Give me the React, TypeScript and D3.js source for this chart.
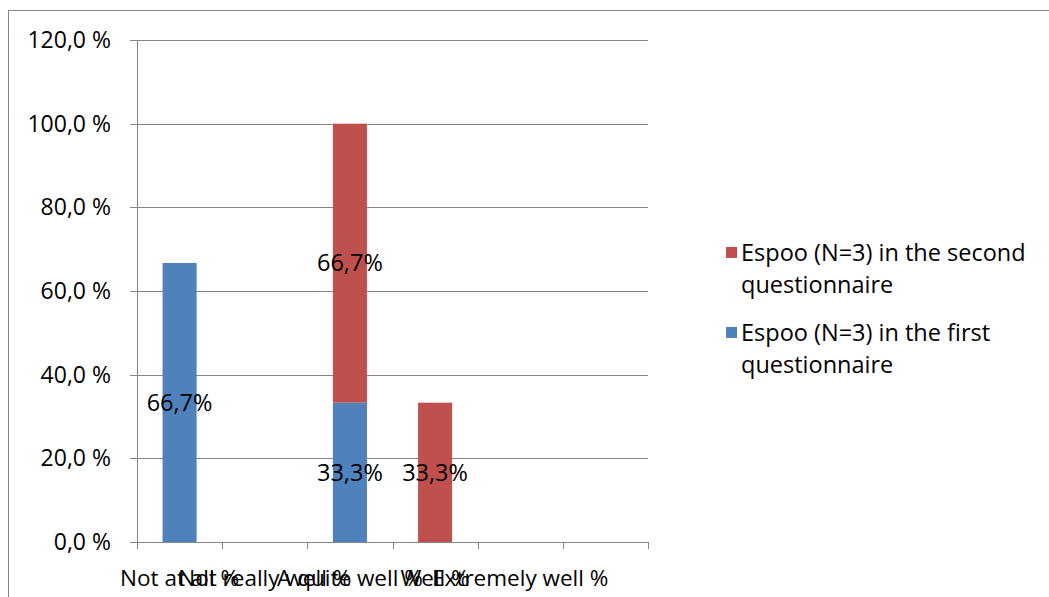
import React from "react";
import * as d3 from "d3";

const categories = ["Not at all %", "Not really well %", "A quite well %", "Well %", "Extremely well %", ""];
const firstQuestionnaire = [66.7, 0, 33.3, 0, 0, 0];
const secondQuestionnaire = [0, 0, 66.7, 33.3, 0, 0];
const yTicks = [0, 20, 40, 60, 80, 100, 120];
const seriesNames = ["Espoo (N=3) in the second questionnaire", "Espoo (N=3) in the first questionnaire"];

const BLUE = "#4F81BD";
const RED = "#C0504D";
const GRID = "#868686";
const FONT = "'Open Sans', 'Noto Sans', sans-serif";

export default function App() {
  const left = 137, right = 648, top = 40, bottom = 542;
  const idx = categories.map((_, i) => i);
  const x = d3.scaleBand<number>().domain(idx).range([left, right]).paddingInner(0.6).paddingOuter(0.3);
  const y = d3.scaleLinear().domain([0, 120]).range([bottom, top]);
  const step = x.step();
  const fmtTick = (v: number) => d3.format(".1f")(v).replace(".", ",") + " %";
  const fmtLbl = (v: number) => d3.format(".1f")(v).replace(".", ",") + "%";

  const stack = d3.stack<number>().keys(["first", "second"]).value((i, k) => (k === "first" ? firstQuestionnaire[i] : secondQuestionnaire[i]));
  const layers = stack(idx);
  const colors = [BLUE, RED];

  const boundaries = d3.range(categories.length + 1).map((i) => left + i * step);

  return (
    <svg width={1049} height={597} style={{ position: "absolute", left: 0, top: 0, display: "block", background: "#fff" }}>
      <rect x={8.5} y={10.5} width={1050} height={600} fill="#fff" stroke={GRID} strokeWidth={1} />
      {yTicks.map((t) => (
        <g key={t}>
          <line x1={left - 7} x2={t === 0 ? left : right} y1={Math.round(y(t)) + 0.5} y2={Math.round(y(t)) + 0.5} stroke={GRID} strokeWidth={1} />
          <text x={111} y={y(t)} dy="0.35em" textAnchor="end" fontFamily={FONT} fontSize={23} fill="#000">
            {fmtTick(t)}
          </text>
        </g>
      ))}
      {layers.map((layer, li) =>
        layer.map((d, i) =>
          d[1] - d[0] > 0 ? (
            <rect key={`${li}-${i}`} x={x(i)} width={x.bandwidth()} y={y(d[1])} height={y(d[0]) - y(d[1])} fill={colors[li]} />
          ) : null
        )
      )}
      <line x1={left} x2={right} y1={bottom + 0.5} y2={bottom + 0.5} stroke={GRID} />
      <line x1={left + 0.5} x2={left + 0.5} y1={top} y2={bottom + 7} stroke={GRID} />
      {boundaries.map((b, i) => (
        <line key={i} x1={Math.round(b) + 0.5} x2={Math.round(b) + 0.5} y1={bottom} y2={bottom + 7} stroke={GRID} />
      ))}
      {layers.map((layer, li) =>
        layer.map((d, i) =>
          d[1] - d[0] > 0 ? (
            <text key={`l${li}-${i}`} x={(x(i) as number) + x.bandwidth() / 2} y={y((d[0] + d[1]) / 2)} dy="0.35em" textAnchor="middle" fontFamily={FONT} fontSize={23.5} fill="#000">
              {fmtLbl(d[1] - d[0])}
            </text>
          ) : null
        )
      )}
      {categories.map((c, i) => (
        <text key={c + i} x={(x(i) as number) + x.bandwidth() / 2} y={578} dy="0.35em" textAnchor="middle" fontFamily={FONT} fontSize={22.5} fill="#000">
          {c}
        </text>
      ))}
      {seriesNames.map((name, si) => {
        const baseY = si === 0 ? 253 : 333;
        const words = name.split(" ");
        const line1 = words.slice(0, words.length - 1).join(" ");
        const line2 = words[words.length - 1];
        return (
          <g key={name}>
            <rect x={726} y={baseY - 6} width={11} height={11} fill={si === 0 ? RED : BLUE} />
            <text x={741} y={baseY} dy="0.35em" fontFamily={FONT} fontSize={23.5} fill="#000">{line1}</text>
            <text x={741} y={baseY + 32} dy="0.35em" fontFamily={FONT} fontSize={23.5} fill="#000">{line2}</text>
          </g>
        );
      })}
    </svg>
  );
}
